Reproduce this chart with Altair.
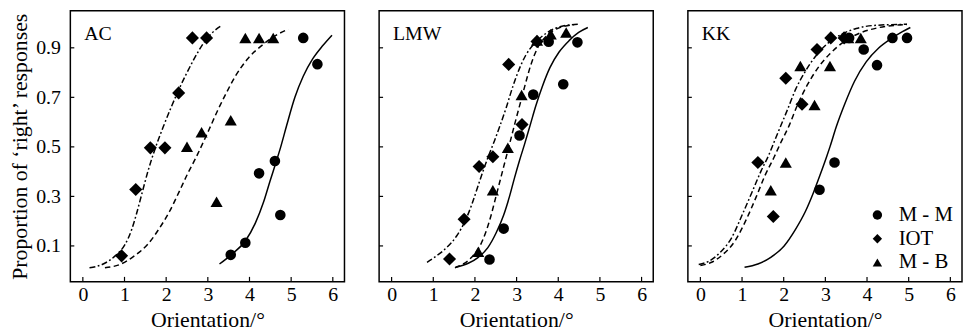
import altair as alt
import pandas as pd

FONT = "Liberation Serif"
PANELS = ["AC", "LMW", "KK"]
SERIES = ["M - M", "IOT", "M - B"]
X_TICKS = [0, 1, 2, 3, 4, 5, 6]
Y_TICKS = [0.1, 0.3, 0.5, 0.7, 0.9]
X_TITLE = "Orientation/°"
Y_TITLE = "Proportion of \u2018right\u2019 responses"

# ---------------- data points ----------------
AC_MM_X = [3.55, 3.90, 4.23, 4.61, 4.74, 5.29, 5.63]
AC_MM_Y = [0.064, 0.113, 0.393, 0.443, 0.225, 0.94, 0.834]
AC_IOT_X = [0.93, 1.27, 1.62, 1.97, 2.30, 2.63, 2.97]
AC_IOT_Y = [0.060, 0.328, 0.496, 0.496, 0.718, 0.94, 0.94]
AC_MB_X = [2.50, 2.85, 3.21, 3.55, 3.90, 4.23, 4.57]
AC_MB_Y = [0.50, 0.559, 0.278, 0.608, 0.94, 0.94, 0.94]

LMW_MM_X = [2.35, 2.69, 3.07, 3.40, 3.77, 4.12, 4.46]
LMW_MM_Y = [0.045, 0.170, 0.546, 0.711, 0.925, 0.753, 0.922]
LMW_IOT_X = [1.39, 1.74, 2.10, 2.43, 2.81, 3.13, 3.49]
LMW_IOT_Y = [0.047, 0.208, 0.421, 0.460, 0.833, 0.59, 0.926]
LMW_MB_X = [2.08, 2.43, 2.79, 3.12, 3.49, 3.82, 4.19]
LMW_MB_Y = [0.076, 0.325, 0.496, 0.709, 0.93, 0.955, 0.962]

KK_MM_X = [2.86, 3.22, 3.57, 3.92, 4.24, 4.61, 4.96]
KK_MM_Y = [0.327, 0.437, 0.94, 0.893, 0.83, 0.94, 0.94]
KK_IOT_X = [1.38, 1.75, 2.05, 2.44, 2.80, 3.13, 3.45]
KK_IOT_Y = [0.437, 0.219, 0.777, 0.672, 0.893, 0.94, 0.94]
KK_MB_X = [1.69, 2.05, 2.40, 2.74, 3.11, 3.55, 3.85]
KK_MB_Y = [0.325, 0.437, 0.827, 0.669, 0.827, 0.94, 0.94]

# ---------------- fitted curves ----------------
AC_MM_CX = [3.28, 3.58, 3.90, 4.14, 4.34, 4.49, 4.65, 4.75, 4.89, 5.09, 5.29, 5.52, 5.76, 5.98]
AC_MM_CY = [0.027, 0.067, 0.12, 0.192, 0.278, 0.36, 0.445, 0.50, 0.585, 0.70, 0.785, 0.856, 0.909, 0.951]
AC_IOT_CX = [0.16, 0.49, 0.81, 1.01, 1.17, 1.28, 1.40, 1.56, 1.75, 1.94, 2.12, 2.30, 2.47, 2.67, 2.90, 3.10, 3.33]
AC_IOT_CY = [0.012, 0.027, 0.065, 0.105, 0.165, 0.225, 0.30, 0.40, 0.50, 0.585, 0.66, 0.73, 0.79, 0.855, 0.92, 0.96, 0.99]
AC_MB_CX = [0.53, 0.89, 1.24, 1.56, 1.84, 2.08, 2.31, 2.51, 2.71, 2.88, 3.03, 3.23, 3.42, 3.66, 3.98, 4.30, 4.61, 4.93]
AC_MB_CY = [0.012, 0.025, 0.06, 0.107, 0.172, 0.239, 0.318, 0.39, 0.455, 0.515, 0.57, 0.645, 0.71, 0.785, 0.86, 0.91, 0.948, 0.975]

LMW_MM_CX = [1.54, 1.84, 2.08, 2.31, 2.51, 2.69, 2.83, 2.95, 3.07, 3.19, 3.33, 3.46, 3.62, 3.80, 4.02, 4.26, 4.49, 4.71]
LMW_MM_CY = [0.014, 0.03, 0.054, 0.093, 0.153, 0.225, 0.30, 0.375, 0.445, 0.51, 0.59, 0.665, 0.745, 0.82, 0.883, 0.929, 0.962, 0.982]
LMW_IOT_CX = [0.85, 1.08, 1.32, 1.56, 1.76, 1.92, 2.06, 2.19, 2.33, 2.47, 2.59, 2.75, 2.91, 3.07, 3.22, 3.42, 3.74, 4.06, 4.49]
LMW_IOT_CY = [0.034, 0.06, 0.093, 0.14, 0.199, 0.265, 0.335, 0.40, 0.465, 0.525, 0.58, 0.658, 0.744, 0.817, 0.87, 0.916, 0.962, 0.986, 0.995]
LMW_MB_CX = [1.52, 1.72, 1.92, 2.12, 2.27, 2.39, 2.49, 2.59, 2.69, 2.79, 2.89, 2.99, 3.11, 3.22, 3.34, 3.49, 3.70, 3.98, 4.38]
LMW_MB_CY = [0.012, 0.027, 0.054, 0.10, 0.16, 0.225, 0.29, 0.355, 0.42, 0.485, 0.55, 0.615, 0.69, 0.76, 0.83, 0.895, 0.945, 0.978, 0.993]

KK_MM_CX = [1.06, 1.38, 1.69, 2.01, 2.28, 2.52, 2.72, 2.87, 3.03, 3.11, 3.27, 3.47, 3.70, 3.98, 4.28, 4.57, 4.85, 5.04]
KK_MM_CY = [0.014, 0.027, 0.054, 0.10, 0.166, 0.239, 0.318, 0.385, 0.46, 0.50, 0.585, 0.675, 0.765, 0.843, 0.899, 0.936, 0.965, 0.982]
KK_IOT_CX = [-0.04, 0.20, 0.47, 0.75, 1.02, 1.26, 1.46, 1.65, 1.77, 1.93, 2.09, 2.28, 2.52, 2.76, 3.03, 3.35, 3.74, 4.22, 4.96]
KK_IOT_CY = [0.025, 0.038, 0.073, 0.133, 0.232, 0.325, 0.404, 0.47, 0.52, 0.585, 0.65, 0.73, 0.805, 0.865, 0.914, 0.951, 0.978, 0.991, 0.995]
KK_MB_CX = [0.0, 0.27, 0.55, 0.83, 1.10, 1.34, 1.55, 1.76, 1.91, 2.13, 2.32, 2.56, 2.84, 3.11, 3.43, 3.82, 4.29, 4.96]
KK_MB_CY = [0.021, 0.034, 0.067, 0.12, 0.206, 0.298, 0.384, 0.455, 0.51, 0.586, 0.665, 0.748, 0.823, 0.876, 0.923, 0.959, 0.982, 0.994]

POINTS = {
    "AC": [(AC_MM_X, AC_MM_Y), (AC_IOT_X, AC_IOT_Y), (AC_MB_X, AC_MB_Y)],
    "LMW": [(LMW_MM_X, LMW_MM_Y), (LMW_IOT_X, LMW_IOT_Y), (LMW_MB_X, LMW_MB_Y)],
    "KK": [(KK_MM_X, KK_MM_Y), (KK_IOT_X, KK_IOT_Y), (KK_MB_X, KK_MB_Y)],
}
CURVES = {
    "AC": [(AC_MM_CX, AC_MM_CY), (AC_IOT_CX, AC_IOT_CY), (AC_MB_CX, AC_MB_CY)],
    "LMW": [(LMW_MM_CX, LMW_MM_CY), (LMW_IOT_CX, LMW_IOT_CY), (LMW_MB_CX, LMW_MB_CY)],
    "KK": [(KK_MM_CX, KK_MM_CY), (KK_IOT_CX, KK_IOT_CY), (KK_MB_CX, KK_MB_CY)],
}


def to_df(d):
    rows = []
    for p, lst in d.items():
        for s, (xs, ys) in zip(SERIES, lst):
            for i, (x, y) in enumerate(zip(xs, ys)):
                rows.append({"panel": p, "series": s, "x": x, "y": y, "order": i})
    return pd.DataFrame(rows)


points_df = to_df(POINTS)
curves_df = to_df(CURVES)

W, H = 277, 274
SHAPES = ["circle", "diamond", "triangle-up"]
SIZES = [115, 175, 150]
DASHES = [None, [6, 2.5, 1.8, 2.5], [5.5, 3.5]]


def panel(name, first, last):
    xs = alt.Scale(domain=[-0.3, 6.28], nice=False, zero=False)
    ys = alt.Scale(domain=[-0.045, 1.05], nice=False, zero=False)
    xaxis = alt.Axis(values=X_TICKS, tickSize=0, domain=False, grid=False,
                     labelPadding=3, labelFlush=False, title=X_TITLE, titlePadding=5)
    if first:
        yaxis = alt.Axis(values=Y_TICKS, format=".1f", tickSize=0, domain=False,
                         grid=False, labelPadding=10, title=Y_TITLE, titlePadding=4)
    else:
        yaxis = None
    X = lambda: alt.X("x:Q", scale=xs, axis=xaxis)
    Y = lambda: alt.Y("y:Q", scale=ys, axis=yaxis)

    layers = []
    cur = curves_df[curves_df.panel == name]
    for s, dash in zip(SERIES, DASHES):
        kw = dict(color="black", strokeWidth=1.5, interpolate="monotone")
        if dash is not None:
            kw["strokeDash"] = dash
        layers.append(
            alt.Chart(cur[cur.series == s]).mark_line(**kw).encode(x=X(), y=Y(), order="order:Q")
        )
    if last:
        legend = alt.Legend(orient="bottom-right", title=None, offset=9, padding=0,
                            labelFont=FONT, labelFontSize=21, labelColor="black",
                            symbolFillColor="black", symbolStrokeColor="black",
                            symbolSize=90, rowPadding=2, labelOffset=11)
    else:
        legend = None
    pts = points_df[points_df.panel == name]
    for s, sz in zip(SERIES, SIZES):
        sub = pts[pts.series == s]
        layers.append(
            alt.Chart(sub).mark_point(filled=True, color="black", opacity=1, size=sz).encode(
                x=X(), y=Y(),
                shape=alt.Shape("series:N", scale=alt.Scale(domain=SERIES, range=SHAPES), legend=legend),
            )
        )
    xt = alt.Chart(pd.DataFrame({"x": X_TICKS})).mark_rule(color="black", strokeWidth=1.2).encode(
        x=X(), y=alt.value(H), y2=alt.value(H - 5))
    yt = alt.Chart(pd.DataFrame({"y": Y_TICKS})).mark_rule(color="black", strokeWidth=1.2).encode(
        y=Y(), x=alt.value(0), x2=alt.value(4))
    lab = alt.Chart(pd.DataFrame({"name": [name]})).mark_text(
        font=FONT, fontSize=20, align="left", baseline="alphabetic", color="black").encode(
        text="name:N", x=alt.value(14), y=alt.value(30))
    layers += [xt, yt, lab]
    return alt.layer(*layers).properties(width=W, height=H)


charts = [panel(p, i == 0, i == 2) for i, p in enumerate(PANELS)]
chart = (
    alt.hconcat(*charts, spacing=32)
    .resolve_scale(shape="independent")
    .resolve_legend(shape="independent")
    .properties(padding=0, background="white")
    .configure_view(stroke="black", strokeWidth=1.5)
    .configure_axis(labelFont=FONT, titleFont=FONT, labelFontSize=20, titleFontSize=22,
                    labelColor="black", titleColor="black", titleFontWeight="normal")
)
chart.save("out.html", embed_options={"renderer": "svg", "actions": False})
